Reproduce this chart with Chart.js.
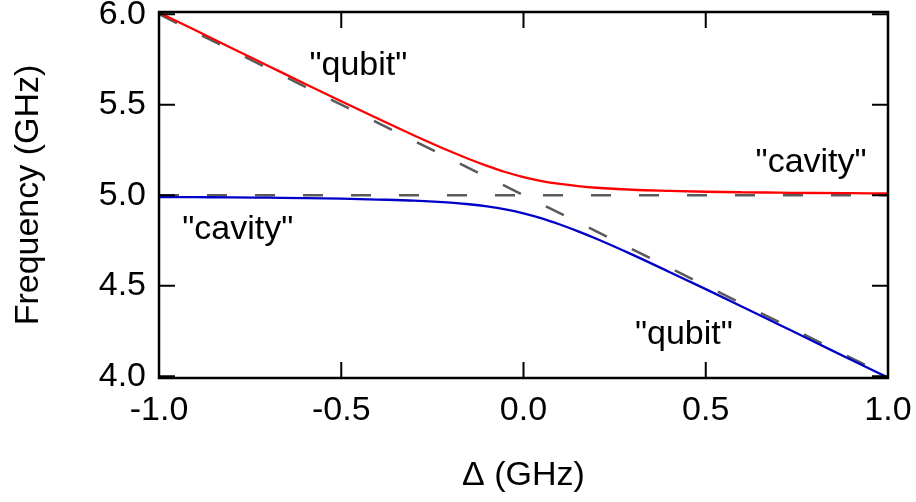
<!DOCTYPE html>
<html>
<head>
<meta charset="utf-8">
<script src="https://cdn.jsdelivr.net/npm/chart.js@4/dist/chart.umd.min.js"></script>
<style>
  body { margin: 0; background: #fff; }
</style>
</head>
<body>
<canvas id="myChart" width="916" height="502"></canvas>
<script>
// detuning values (GHz)
const delta = [-1.0, -0.9, -0.8, -0.7, -0.6, -0.5, -0.4, -0.3, -0.2, -0.15, -0.1, -0.05,
    0.0, 0.05, 0.1, 0.15, 0.2, 0.3, 0.4, 0.5, 0.6, 0.7, 0.8, 0.9, 1.0];
// upper branch (red)
const upper = [6.008, 5.911, 5.812, 5.714, 5.616, 5.519, 5.424, 5.330, 5.241, 5.200, 5.162, 5.128,
    5.100, 5.078, 5.062, 5.050, 5.041, 5.030, 5.024, 5.019, 5.016, 5.014, 5.012, 5.011, 5.010];
// lower branch (blue)
const lower = [4.990, 4.989, 4.988, 4.986, 4.984, 4.981, 4.976, 4.970, 4.959, 4.950, 4.938, 4.922,
    4.900, 4.872, 4.838, 4.800, 4.759, 4.670, 4.576, 4.481, 4.384, 4.286, 4.188, 4.089, 3.992];
// bare (uncoupled) frequencies, dashed
const bareDelta = [-1.0, 1.0];
const bareQubit = [6.0, 4.0];
const bareCavity = [5.0, 5.0];

const xTicks = [-1.0, -0.5, 0.0, 0.5, 1.0];
const yTicks = [4.0, 4.5, 5.0, 5.5, 6.0];

const notes = [
    { text: '"qubit"', x: -0.453, y: 5.664 },
    { text: '"cavity"', x: 0.789, y: 5.13 },
    { text: '"cavity"', x: -0.784, y: 4.76 },
    { text: '"qubit"', x: 0.44, y: 4.176 }
];

const FONT = '"Liberation Sans", Arial, sans-serif';
const toXY = (xs, ys) => xs.map((x, i) => ({ x: x, y: ys[i] }));

// labels may hang over the plot edges, don't let them shrink the plot
const noOverhang = s => {
    s.paddingTop = 0; s.paddingBottom = 0;
    s.paddingLeft = 0; s.paddingRight = 0;
};

// frame with inward ticks on all four sides, plus the text labels
const framePlugin = {
    id: 'frame',
    afterDatasetsDraw(chart) {
        const { ctx, chartArea: a, scales } = chart;
        const len = 16;
        ctx.save();
        ctx.strokeStyle = '#000';
        ctx.lineWidth = 2;
        ctx.beginPath();
        xTicks.forEach(v => {
            const px = scales.x.getPixelForValue(v);
            ctx.moveTo(px, a.bottom); ctx.lineTo(px, a.bottom - len);
            ctx.moveTo(px, a.top); ctx.lineTo(px, a.top + len);
        });
        yTicks.forEach(v => {
            const py = scales.y.getPixelForValue(v);
            ctx.moveTo(a.left, py); ctx.lineTo(a.left + len, py);
            ctx.moveTo(a.right, py); ctx.lineTo(a.right - len, py);
        });
        ctx.stroke();
        ctx.lineWidth = 2.5;
        ctx.strokeRect(a.left, a.top, a.right - a.left, a.bottom - a.top);
        ctx.restore();
    },
    afterDraw(chart) {
        const { ctx, scales } = chart;
        ctx.save();
        ctx.fillStyle = '#000';
        ctx.font = '34px ' + FONT;
        ctx.textAlign = 'center';
        ctx.textBaseline = 'alphabetic';
        notes.forEach(n => {
            ctx.fillText(n.text, scales.x.getPixelForValue(n.x), scales.y.getPixelForValue(n.y));
        });
        ctx.restore();
    }
};

new Chart(document.getElementById('myChart').getContext('2d'), {
    type: 'line',
    data: {
        datasets: [
            {
                data: toXY(delta, upper),
                borderColor: '#ff0000',
                borderWidth: 2.3,
                pointRadius: 0,
                cubicInterpolationMode: 'monotone'
            },
            {
                data: toXY(delta, lower),
                borderColor: '#0000c8',
                borderWidth: 2.3,
                pointRadius: 0,
                cubicInterpolationMode: 'monotone'
            },
            {
                data: toXY(bareDelta, bareQubit),
                borderColor: '#5a5a5a',
                borderWidth: 2.5,
                borderDash: [20, 28],
                pointRadius: 0
            },
            {
                data: toXY(bareDelta, bareCavity),
                borderColor: '#5a5a5a',
                borderWidth: 2.5,
                borderDash: [20, 28],
                pointRadius: 0
            }
        ]
    },
    options: {
        responsive: false,
        animation: false,
        layout: { padding: { top: 12, right: 28, left: 0, bottom: 0 } },
        plugins: { legend: { display: false }, tooltip: { enabled: false } },
        scales: {
            x: {
                type: 'linear',
                min: -1,
                max: 1,
                afterBuildTicks: s => { s.ticks = xTicks.map(v => ({ value: v })); },
                afterFit: s => { s.height = 124; noOverhang(s); },
                grid: { display: false, drawTicks: false },
                border: { display: false },
                ticks: {
                    color: '#000',
                    padding: 12,
                    maxRotation: 0,
                    font: { family: FONT, size: 34 },
                    callback: v => v.toFixed(1)
                },
                title: {
                    display: true,
                    text: 'Δ (GHz)',
                    color: '#000',
                    font: { family: FONT, size: 34 },
                    padding: { top: 0, bottom: 6 }
                }
            },
            y: {
                min: 3.99,
                max: 6.012,
                afterBuildTicks: s => { s.ticks = yTicks.map(v => ({ value: v })); },
                afterFit: s => { s.width = 159; noOverhang(s); },
                grid: { display: false, drawTicks: false },
                border: { display: false },
                ticks: {
                    color: '#000',
                    padding: 13,
                    font: { family: FONT, size: 34 },
                    callback: v => v.toFixed(1)
                },
                title: {
                    display: true,
                    text: 'Frequency (GHz)',
                    color: '#000',
                    font: { family: FONT, size: 34 },
                    padding: { top: 8, bottom: 0 }
                }
            }
        }
    },
    plugins: [framePlugin]
});
</script>
</body>
</html>
